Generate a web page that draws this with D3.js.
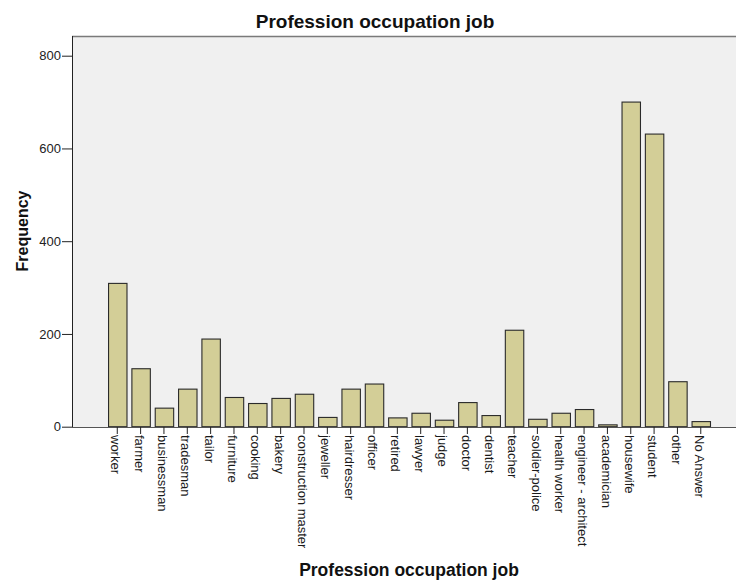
<!DOCTYPE html>
<html>
<head>
<meta charset="utf-8">
<script src="https://cdn.jsdelivr.net/npm/d3@7"></script>
<style>
  html, body { margin: 0; padding: 0; background: #ffffff; }
  svg { display: block; font-family: "Liberation Sans", Arial, sans-serif; }
</style>
</head>
<body>
<svg id="chart" width="736" height="581"></svg>
<script>
const categories = ["worker", "farmer", "businessman", "tradesman", "tailor", "furniture", "cooking", "bakery",
  "construction master", "jeweller", "hairdresser", "officer", "retired", "lawyer", "judge", "doctor", "dentist",
  "teacher", "soldier-police", "health worker", "engineer - architect", "academician", "housewife", "student",
  "other", "No Answer"];
const frequencies = [309, 125, 40, 81, 189, 63, 50, 61, 70, 20, 81, 92, 19, 29, 14, 52, 24, 208, 16, 29, 37, 4, 700, 631, 97, 11];
const yTicks = [0, 200, 400, 600, 800];
const chartTitle = "Profession occupation job";
const xTitle = "Profession occupation job";
const yTitle = "Frequency";

const svg = d3.select("#chart");
const plotLeft = 72, plotTop = 36, plotRight = 746, plotBottom = 427;

const x = d3.scaleBand().domain(categories).range([105.6, 105.6 + 26 * 23.34])
  .paddingInner(0.21).paddingOuter(0.105);
const y = d3.scaleLinear().domain([0, 800]).range([426.7, 55.7]);

// plot background
svg.append("rect").attr("x", plotLeft).attr("y", plotTop)
  .attr("width", plotRight - plotLeft).attr("height", plotBottom - plotTop)
  .attr("fill", "#f0f0f0");
svg.append("line").attr("x1", plotLeft).attr("x2", plotRight)
  .attr("y1", plotTop + 0.5).attr("y2", plotTop + 0.5)
  .attr("stroke", "#7a7a7a").attr("stroke-width", 1.6);

// title
svg.append("text").attr("x", 375).attr("y", 28).attr("text-anchor", "middle")
  .attr("font-weight", "bold").attr("font-size", 19).attr("fill", "#111").text(chartTitle);

// bars
svg.append("g").selectAll("rect").data(categories).join("rect")
  .attr("x", d => x(d) + 0.5)
  .attr("y", (d, i) => y(frequencies[i]))
  .attr("width", x.bandwidth())
  .attr("height", (d, i) => y(0) - y(frequencies[i]))
  .attr("fill", "#d3ce97").attr("stroke", "#2a2a2a").attr("stroke-width", 1.1);

// y axis
const yAxis = d3.axisLeft(y).tickValues(yTicks).tickSize(10).tickSizeOuter(0).tickPadding(1);
const gy = svg.append("g").attr("transform", `translate(${plotLeft},0)`).call(yAxis);
gy.select(".domain").attr("d", `M0.5,${plotTop}V${plotBottom}`).attr("stroke", "#222");
gy.selectAll(".tick line").attr("stroke", "#222");
gy.selectAll(".tick text").attr("font-size", 13).attr("fill", "#222")
  .attr("font-family", "Liberation Sans, Arial, sans-serif");

// x axis
const xAxis = d3.axisBottom(x).tickSize(7).tickSizeOuter(0);
const gx = svg.append("g").attr("transform", `translate(0,${plotBottom})`).call(xAxis);
gx.select(".domain").attr("d", `M${plotLeft},0.5H${plotRight}`).attr("stroke", "#555");
gx.selectAll(".tick line").attr("stroke", "#222");
gx.selectAll(".tick text")
  .attr("font-size", 13).attr("fill", "#1a1a1a")
  .attr("font-family", "Liberation Sans, Arial, sans-serif")
  .attr("text-anchor", "start")
  .attr("transform", "rotate(90)")
  .attr("x", 8).attr("y", 0).attr("dy", "0.45em");

// axis titles
svg.append("text").attr("x", 409).attr("y", 576).attr("text-anchor", "middle")
  .attr("font-weight", "bold").attr("font-size", 17.5).attr("fill", "#111").text(xTitle);
svg.append("text").attr("transform", "translate(28,231) rotate(-90)").attr("text-anchor", "middle")
  .attr("font-weight", "bold").attr("font-size", 16).attr("fill", "#111").text(yTitle);
</script>
</body>
</html>
